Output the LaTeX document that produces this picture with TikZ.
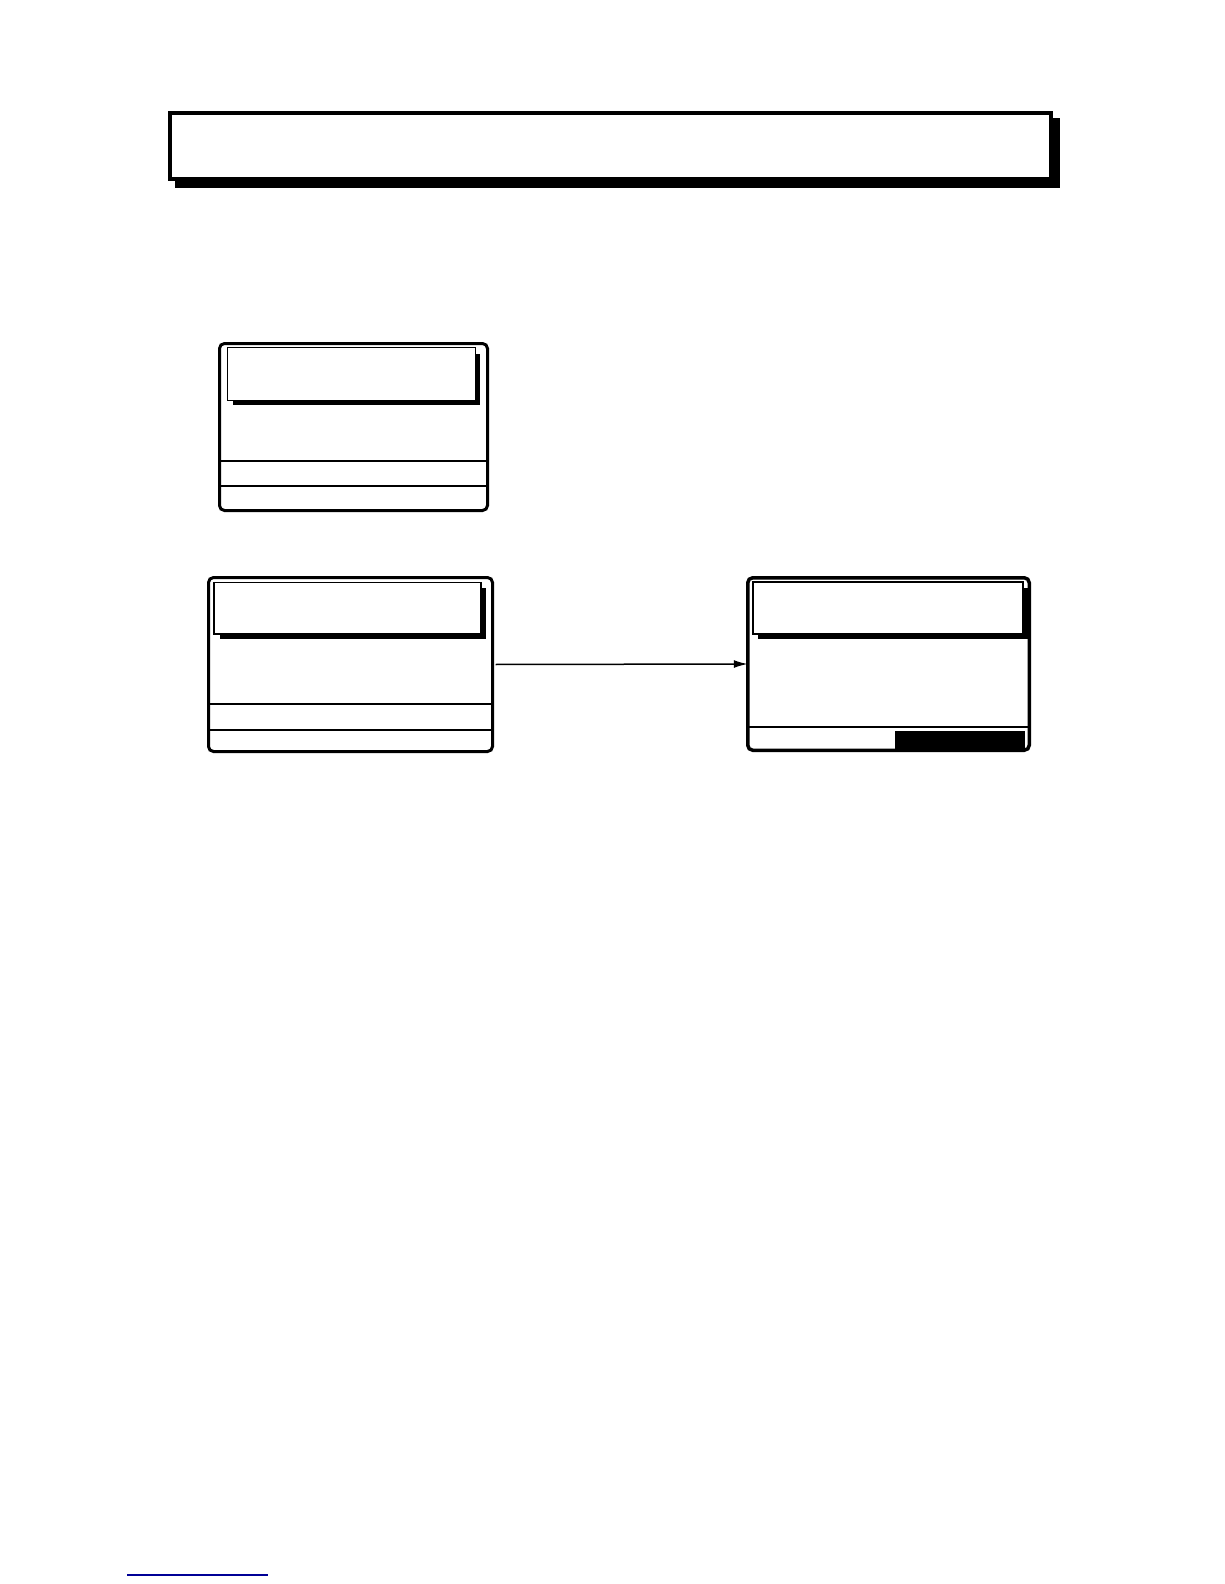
\documentclass[tikz,border=0pt]{standalone}
\usetikzlibrary{arrows.meta}
\definecolor{linkblue}{RGB}{0,0,150}
\tikzset{
  screen/.style={draw, line width=3pt, rounded corners=5pt, fill=white, inner sep=0pt, outer sep=0pt},
  shadowfill/.style={fill=black, draw=none},
  titlebox/.style={draw, fill=white, line width=1.6pt},
  septhin/.style={line width=1.5pt},
  septhick/.style={line width=2.5pt},
  flow/.style={line width=1.5pt, -{Latex[length=14pt,width=8pt]}}
}
\begin{document}
\begin{tikzpicture}[x=1pt,y=-1pt]
\useasboundingbox (0,0) rectangle (1224,1584);
% top banner
\fill[shadowfill] (175,118) rectangle (1060,188);
\draw[line width=4pt, fill=white] (170,113) rectangle (1051,179);
% screen 1
\node[screen, minimum width=268pt, minimum height=167pt] (b1) at (353.5,427) {};
\fill[shadowfill] (233,354) rectangle (480,405);
\draw[titlebox] (227.5,347.5) rectangle (475.5,400.5);
\draw[septhin] (b1.west |- 0,461) -- (b1.east |- 0,461);
\draw[septhick] (b1.west |- 0,486) -- (b1.east |- 0,486);
% screen 2
\node[screen, minimum width=284pt, minimum height=174pt] (b2) at (350.5,664.5) {};
\fill[shadowfill] (220,588) rectangle (485.5,639);
\draw[titlebox] (214,582.5) rectangle (481,634);
\draw[septhick] (b2.west |- 0,704) -- (b2.east |- 0,704);
\draw[septhick] (b2.west |- 0,730) -- (b2.east |- 0,730);
% screen 3
\node[screen, line width=3.5pt, minimum width=281.5pt, minimum height=172.5pt] (b3) at (888.5,664) {};
\fill[shadowfill] (758,588) rectangle (1028,638.5);
\draw[titlebox] (753,582) rectangle (1023,634);
\draw[septhin] (b3.west |- 0,727) -- (b3.east |- 0,727);
\fill[black] (895,731) rectangle (1025,750);
% connector
\draw[flow, shorten <=3pt] (b2.east) -- (b3.west);
% bottom blue rule
\coordinate (r1) at (127,1575);
\coordinate (r2) at (268,1575);
\draw[linkblue, line width=1.5pt] (r1) -- (r2);
\end{tikzpicture}
\end{document}
